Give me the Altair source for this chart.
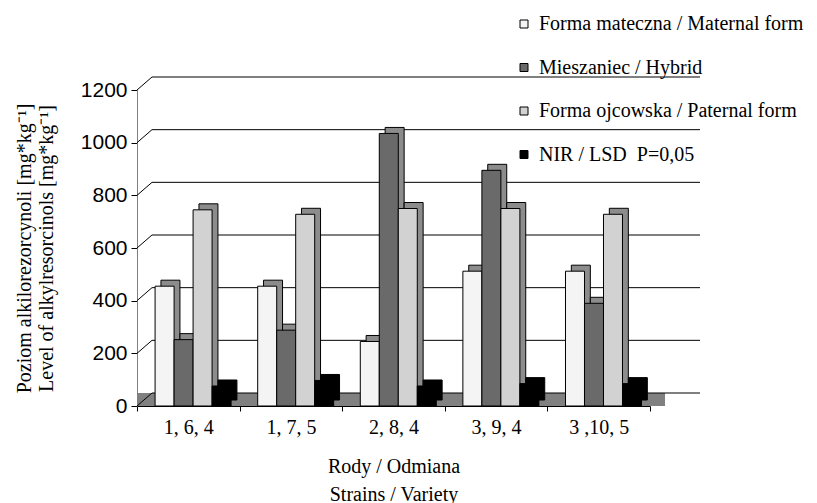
import altair as alt
import pandas as pd

groups = ["1, 6, 4", "1, 7, 5", "2, 8, 4", "3, 9, 4", "3 ,10, 5"]
series = ["Forma mateczna / Maternal form", "Mieszaniec / Hybrid",
          "Forma ojcowska / Paternal form", "NIR / LSD\u00a0 P=0,05"]
maternal = [455, 455, 245, 512, 512]
hybrid = [252, 288, 1035, 895, 390]
paternal = [745, 728, 750, 750, 728]
lsd = [76, 97, 76, 85, 85]
y_ticks = [0, 200, 400, 600, 800, 1000, 1200]
fills = ["#f4f4f4", "#6a6a6a", "#d2d2d2", "#000000"]

rows = []
for s, vals in zip(series, [maternal, hybrid, paternal, lsd]):
    for g, v in zip(groups, vals):
        rows.append({"group": g, "series": s, "value": v})
df = pd.DataFrame(rows)
grid_df = pd.DataFrame({"value": y_ticks})

SERIF = "Liberation Serif"
SANS = "Liberation Sans"
FS = 20
W, H = 563, 316
DX, DY = 15, 13

x_enc = alt.X("group:N", sort=groups,
              scale=alt.Scale(range=[0, 513], paddingInner=0, paddingOuter=0),
              axis=alt.Axis(title=["Rody / Odmiana", "Strains / Variety"],
                            labelAngle=0, labelFont=SERIF, labelFontSize=FS,
                            labelColor="black", labelPadding=6,
                            tickBand="extent", tickSize=5, tickColor="black",
                            domainColor="black", titleFont=SERIF,
                            titleFontSize=FS, titleFontWeight="normal",
                            titleColor="black", titleLineHeight=28,
                            titlePadding=19))
y_enc = alt.Y("value:Q", scale=alt.Scale(domain=[0, 1200], nice=False),
              axis=alt.Axis(values=y_ticks, grid=False, format="d",
                            title=["Poziom alkilorezorcynoli [mg*kg⁻¹]",
                                   "Level of alkylresorcinols [mg*kg⁻¹]"],
                            labelFont=SANS, labelFontSize=21, labelColor="black",
                            labelPadding=4, tickSize=6, tickColor="black",
                            domainColor="#808080", titleFont=SERIF,
                            titleFontSize=FS, titleFontWeight="normal",
                            titleColor="black", titleLineHeight=22,
                            titlePadding=24))

floor = alt.Chart(grid_df).mark_rect(color="#808080", y2Offset=-DY).encode(
    x=alt.value(0), x2=alt.value(513 + DX),
    y=alt.YDatum(0), y2=alt.Y2Datum(0))

wall = alt.Chart(grid_df).mark_rule(color="black", strokeWidth=1, yOffset=-DY).encode(
    x=alt.value(DX), x2=alt.value(W), y="value:Q")
conn = alt.Chart(grid_df).mark_rule(color="black", strokeWidth=1, y2Offset=-DY).encode(
    x=alt.value(0), x2=alt.value(DX), y="value:Q", y2="value:Q")

shadow = alt.Chart(df).mark_bar(stroke="black", strokeWidth=1,
                                yOffset=-6, y2Offset=-6).encode(
    x=x_enc,
    xOffset=alt.XOffset("series:N", sort=series,
                        scale=alt.Scale(paddingInner=0, paddingOuter=0.7, align=0.9)),
    y=y_enc,
    fill=alt.condition(alt.datum.series == series[3], alt.value("black"),
                       alt.value("#8c8c8c")))

bars = alt.Chart(df).mark_bar(stroke="black", strokeWidth=1).encode(
    x=x_enc,
    xOffset=alt.XOffset("series:N", sort=series,
                        scale=alt.Scale(paddingInner=0, paddingOuter=0.7, align=0.68)),
    y=y_enc,
    fill=alt.Fill("series:N", sort=series,
                  scale=alt.Scale(domain=series, range=fills),
                  legend=alt.Legend(title=None, orient="none",
                                    legendX=377, legendY=-76, padding=0,
                                    symbolType="square", symbolSize=64,
                                    symbolStrokeColor="black",
                                    symbolStrokeWidth=1, labelFont=SERIF,
                                    labelFontSize=FS, labelColor="black",
                                    labelLimit=500, labelOffset=5,
                                    rowPadding=23.5)))

chart = alt.layer(floor, wall, conn, shadow, bars).resolve_scale(
    xOffset="independent"
).properties(
    width=W, height=H,
    padding={"left": 129, "top": 82, "right": 109, "bottom": 97},
    autosize=alt.AutoSizeParams(type="none"),
).configure_view(stroke=None).configure_legend(
    labelFont=SERIF, labelFontSize=FS
)

chart.save("out.html", embed_options={"renderer": "svg", "actions": False})
